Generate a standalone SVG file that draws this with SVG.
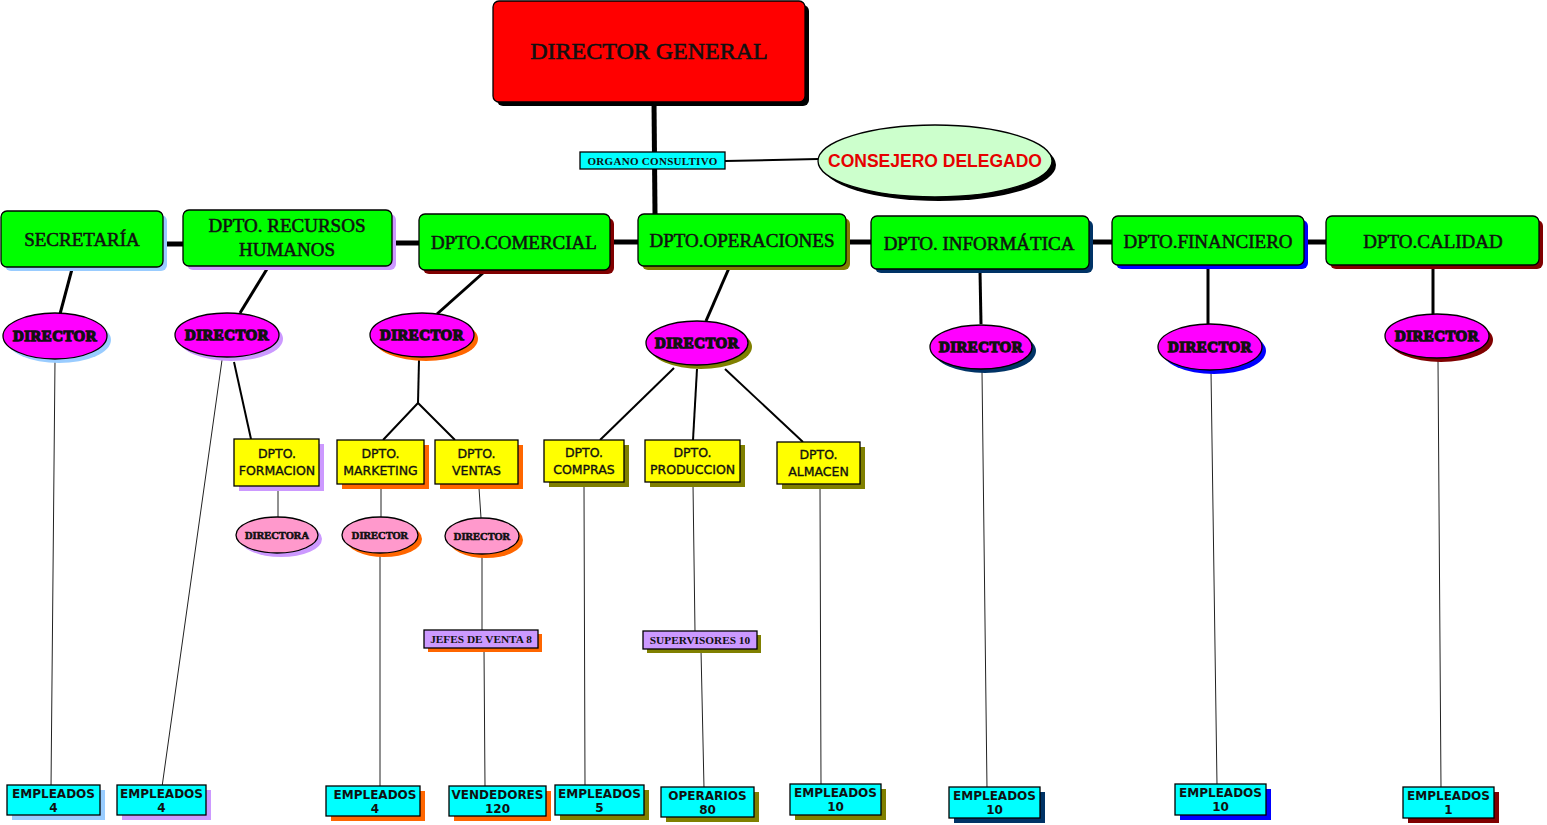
<svg xmlns="http://www.w3.org/2000/svg" width="1547" height="825" viewBox="0 0 1547 825">
<style>
.bg{fill:#ffffff}
.sk{stroke:#000;stroke-width:1.3}
.red{fill:#ff0000}
.grn{fill:#00ff00}
.mag{fill:#ff00ff}
.pnk{fill:#ff99cc}
.yel{fill:#ffff00}
.cya{fill:#00ffff}
.pur{fill:#cc99ff}
.lgr{fill:#ccffcc}
.s-lb{fill:#99ccff}.s-pu{fill:#cc99ff}.s-dr{fill:#800000}.s-ol{fill:#808000}.s-nv{fill:#003366}.s-bl{fill:#0000ff}.s-or{fill:#ff6600}.s-bk{fill:#000}
.tg{font-family:"Liberation Serif","Times New Roman",serif;font-size:19px;fill:#111;stroke:#111;stroke-width:0.55;text-anchor:middle}
.td{font-family:"Liberation Serif","Times New Roman",serif;font-size:15px;font-weight:bold;fill:#111;stroke:#111;stroke-width:1.3;text-anchor:middle;letter-spacing:0.4px}
.tp{font-family:"Liberation Serif","Times New Roman",serif;font-size:10.5px;font-weight:bold;fill:#111;stroke:#111;stroke-width:0.6;text-anchor:middle}
.ty{font-family:"DejaVu Sans",Verdana,sans-serif;font-size:12.5px;fill:#111;stroke:#111;stroke-width:0.35;text-anchor:middle}
.tc{font-family:"DejaVu Sans",Verdana,sans-serif;font-size:12px;font-weight:bold;fill:#111;text-anchor:middle}
.tv{font-family:"Liberation Serif","Times New Roman",serif;font-size:11.3px;font-weight:bold;fill:#111;text-anchor:middle}
.thick{stroke:#000;stroke-width:5;fill:none}
.med{stroke:#000;stroke-width:3;fill:none}
.br{stroke:#000;stroke-width:2;fill:none}
.thin{stroke:#222;stroke-width:1;fill:none}
</style>
<rect class="bg" x="0" y="0" width="1547" height="825"/>

<g id="connectors">
  <line class="thick" x1="654" y1="102" x2="655" y2="214"/>
  <line class="br" x1="725" y1="161" x2="818" y2="159"/>
  <line class="thick" x1="163" y1="244" x2="183" y2="244"/>
  <line class="thick" x1="392" y1="243" x2="419" y2="243"/>
  <line class="thick" x1="610" y1="242" x2="638" y2="242"/>
  <line class="thick" x1="846" y1="242" x2="871" y2="242"/>
  <line class="thick" x1="1089" y1="242" x2="1112" y2="242"/>
  <line class="thick" x1="1304" y1="242" x2="1326" y2="242"/>
  <line class="med" x1="72" y1="269" x2="60" y2="314"/>
  <line class="med" x1="267" y1="269" x2="240" y2="313"/>
  <line class="med" x1="483" y1="273" x2="437" y2="314"/>
  <line class="med" x1="729" y1="268" x2="706" y2="321"/>
  <line class="med" x1="980" y1="271" x2="981" y2="324"/>
  <line class="med" x1="1208" y1="266" x2="1208" y2="324"/>
  <line class="med" x1="1433" y1="266" x2="1433" y2="314"/>
  <line class="thin" x1="55" y1="360" x2="51" y2="788"/>
  <line class="thin" x1="222" y1="360" x2="162" y2="787"/>
  <line class="br" x1="234" y1="362" x2="251" y2="439"/>
  <line class="br" x1="419" y1="360" x2="418" y2="403"/>
  <polyline class="br" points="383,440 418,403 455,440"/>
  <line class="br" x1="674" y1="368" x2="600" y2="440"/>
  <line class="br" x1="697" y1="369" x2="693" y2="440"/>
  <line class="br" x1="725" y1="369" x2="803" y2="442"/>
  <line class="thin" x1="278" y1="488" x2="278" y2="517"/>
  <line class="thin" x1="381" y1="486" x2="381" y2="517"/>
  <line class="thin" x1="479" y1="488" x2="481" y2="518"/>
  <line class="thin" x1="380" y1="554" x2="380" y2="788"/>
  <line class="thin" x1="482" y1="555" x2="482" y2="631"/>
  <line class="thin" x1="484" y1="649" x2="485" y2="787"/>
  <line class="thin" x1="584" y1="484" x2="585" y2="787"/>
  <line class="thin" x1="693" y1="484" x2="695" y2="632"/>
  <line class="thin" x1="701" y1="650" x2="704" y2="788"/>
  <line class="thin" x1="820" y1="486" x2="821" y2="786"/>
  <line class="thin" x1="982" y1="371" x2="987" y2="789"/>
  <line class="thin" x1="1211" y1="371" x2="1217" y2="785"/>
  <line class="thin" x1="1438" y1="361" x2="1441" y2="789"/>
</g>

<g id="director-general">
  <rect class="s-bk" x="497" y="5" width="312" height="101" rx="6"/>
  <rect class="red sk" x="493" y="1" width="312" height="101" rx="6"/>
  <text x="649" y="59" style="font-family:'Liberation Serif','Times New Roman',serif;font-size:24px;fill:#111;stroke:#111;stroke-width:0.6;text-anchor:middle">DIRECTOR GENERAL</text>
</g>

<g id="organo-consultivo">
  <rect class="cya sk" x="580" y="152" width="145" height="17"/>
  <text class="tv" x="652.5" y="164.5" style="font-size:11px;letter-spacing:0.3px">ORGANO CONSULTIVO</text>
</g>

<g id="consejero-delegado">
  <ellipse class="s-bk" cx="939" cy="165" rx="117" ry="36"/>
  <ellipse class="lgr sk" cx="935" cy="161" rx="117" ry="36"/>
  <text x="935" y="167" style="font-family:'Liberation Sans',Arial,sans-serif;font-size:17.5px;font-weight:bold;fill:#e60000;text-anchor:middle">CONSEJERO DELEGADO</text>
</g>

<g id="secretaria">
  <rect class="s-lb" x="5" y="215" width="162" height="56" rx="6"/>
  <rect class="grn sk" x="1" y="211" width="162" height="56" rx="6"/>
  <text class="tg" x="82" y="246">SECRETARÍA</text>
</g>
<g id="rrhh">
  <rect class="s-pu" x="187" y="214" width="209" height="56" rx="6"/>
  <rect class="grn sk" x="183" y="210" width="209" height="56" rx="6"/>
  <text class="tg" x="287" y="232">DPTO. RECURSOS</text>
  <text class="tg" x="287" y="256">HUMANOS</text>
</g>
<g id="comercial">
  <rect class="s-dr" x="423" y="218" width="191" height="56" rx="6"/>
  <rect class="grn sk" x="419" y="214" width="191" height="56" rx="6"/>
  <text class="tg" x="514" y="249">DPTO.COMERCIAL</text>
</g>
<g id="operaciones">
  <rect class="s-ol" x="642" y="218" width="208" height="52" rx="6"/>
  <rect class="grn sk" x="638" y="214" width="208" height="52" rx="6"/>
  <text class="tg" x="742" y="247">DPTO.OPERACIONES</text>
</g>
<g id="informatica">
  <rect class="s-nv" x="875" y="220" width="218" height="53" rx="6"/>
  <rect class="grn sk" x="871" y="216" width="218" height="53" rx="6"/>
  <text class="tg" x="979" y="250">DPTO. INFORMÁTICA</text>
</g>
<g id="financiero">
  <rect class="s-bl" x="1116" y="220" width="192" height="49" rx="6"/>
  <rect class="grn sk" x="1112" y="216" width="192" height="49" rx="6"/>
  <text class="tg" x="1208" y="248">DPTO.FINANCIERO</text>
</g>
<g id="calidad">
  <rect class="s-dr" x="1330" y="220" width="213" height="49" rx="6"/>
  <rect class="grn sk" x="1326" y="216" width="213" height="49" rx="6"/>
  <text class="tg" x="1433" y="248">DPTO.CALIDAD</text>
</g>

<g id="dir-secretaria">
  <ellipse class="s-lb" cx="59" cy="340" rx="52" ry="23"/>
  <ellipse class="mag sk" cx="55" cy="336" rx="52" ry="23"/>
  <text class="td" x="55" y="341">DIRECTOR</text>
</g>
<g id="dir-rrhh">
  <ellipse class="s-pu" cx="231" cy="339" rx="52" ry="22"/>
  <ellipse class="mag sk" cx="227" cy="335" rx="52" ry="22"/>
  <text class="td" x="227" y="340">DIRECTOR</text>
</g>
<g id="dir-comercial">
  <ellipse class="s-or" cx="426" cy="339" rx="52" ry="22"/>
  <ellipse class="mag sk" cx="422" cy="335" rx="52" ry="22"/>
  <text class="td" x="422" y="340">DIRECTOR</text>
</g>
<g id="dir-operaciones">
  <ellipse class="s-ol" cx="701" cy="347" rx="51" ry="22"/>
  <ellipse class="mag sk" cx="697" cy="343" rx="51" ry="22"/>
  <text class="td" x="697" y="348">DIRECTOR</text>
</g>
<g id="dir-informatica">
  <ellipse class="s-nv" cx="985" cy="351" rx="51" ry="22"/>
  <ellipse class="mag sk" cx="981" cy="347" rx="51" ry="22"/>
  <text class="td" x="981" y="352">DIRECTOR</text>
</g>
<g id="dir-financiero">
  <ellipse class="s-bl" cx="1214" cy="351" rx="52" ry="23"/>
  <ellipse class="mag sk" cx="1210" cy="347" rx="52" ry="23"/>
  <text class="td" x="1210" y="352">DIRECTOR</text>
</g>
<g id="dir-calidad">
  <ellipse class="s-dr" cx="1441" cy="340" rx="52" ry="22"/>
  <ellipse class="mag sk" cx="1437" cy="336" rx="52" ry="22"/>
  <text class="td" x="1437" y="341">DIRECTOR</text>
</g>

<g id="formacion">
  <rect class="s-pu" x="239" y="444" width="85" height="47"/>
  <rect class="yel sk" x="234" y="439" width="85" height="47"/>
  <text class="ty" x="277" y="458">DPTO.</text>
  <text class="ty" x="277" y="475">FORMACION</text>
</g>
<g id="marketing">
  <rect class="s-or" x="342" y="445" width="87" height="44"/>
  <rect class="yel sk" x="337" y="440" width="87" height="44"/>
  <text class="ty" x="380.5" y="458">DPTO.</text>
  <text class="ty" x="380.5" y="475">MARKETING</text>
</g>
<g id="ventas">
  <rect class="s-or" x="440" y="445" width="83" height="44"/>
  <rect class="yel sk" x="435" y="440" width="83" height="44"/>
  <text class="ty" x="476.5" y="458">DPTO.</text>
  <text class="ty" x="476.5" y="475">VENTAS</text>
</g>
<g id="compras">
  <rect class="s-ol" x="549" y="445" width="80" height="42"/>
  <rect class="yel sk" x="544" y="440" width="80" height="42"/>
  <text class="ty" x="584" y="457">DPTO.</text>
  <text class="ty" x="584" y="474">COMPRAS</text>
</g>
<g id="produccion">
  <rect class="s-ol" x="650" y="445" width="95" height="42"/>
  <rect class="yel sk" x="645" y="440" width="95" height="42"/>
  <text class="ty" x="692.5" y="457">DPTO.</text>
  <text class="ty" x="692.5" y="474">PRODUCCION</text>
</g>
<g id="almacen">
  <rect class="s-ol" x="782" y="447" width="83" height="42"/>
  <rect class="yel sk" x="777" y="442" width="83" height="42"/>
  <text class="ty" x="818.5" y="459">DPTO.</text>
  <text class="ty" x="818.5" y="476">ALMACEN</text>
</g>

<g id="directora-formacion">
  <ellipse class="s-pu" cx="281" cy="539" rx="41" ry="18"/>
  <ellipse class="pnk sk" cx="277" cy="535" rx="41" ry="18"/>
  <text class="tp" x="277" y="539">DIRECTORA</text>
</g>
<g id="director-marketing">
  <ellipse class="s-or" cx="384" cy="539" rx="38" ry="18"/>
  <ellipse class="pnk sk" cx="380" cy="535" rx="38" ry="18"/>
  <text class="tp" x="380" y="539">DIRECTOR</text>
</g>
<g id="director-ventas">
  <ellipse class="s-or" cx="486" cy="540" rx="37" ry="18"/>
  <ellipse class="pnk sk" cx="482" cy="536" rx="37" ry="18"/>
  <text class="tp" x="482" y="540">DIRECTOR</text>
</g>

<g id="jefes-venta">
  <rect class="s-or" x="428" y="634" width="114" height="18"/>
  <rect class="pur sk" x="424" y="630" width="114" height="18"/>
  <text class="tv" x="481" y="643">JEFES DE VENTA 8</text>
</g>
<g id="supervisores">
  <rect class="s-ol" x="647" y="635" width="114" height="18"/>
  <rect class="pur sk" x="643" y="631" width="114" height="18"/>
  <text class="tv" x="700" y="644">SUPERVISORES 10</text>
</g>

<g id="emp-secretaria">
  <rect class="s-lb" x="12" y="790" width="93" height="30"/>
  <rect class="cya sk" x="7" y="785" width="93" height="30"/>
  <text class="tc" x="53.5" y="798">EMPLEADOS</text>
  <text class="tc" x="53.5" y="812">4</text>
</g>
<g id="emp-rrhh">
  <rect class="s-pu" x="122" y="790" width="89" height="30"/>
  <rect class="cya sk" x="117" y="785" width="89" height="30"/>
  <text class="tc" x="161.5" y="798">EMPLEADOS</text>
  <text class="tc" x="161.5" y="812">4</text>
</g>
<g id="emp-marketing">
  <rect class="s-or" x="331" y="791" width="94" height="30"/>
  <rect class="cya sk" x="326" y="786" width="94" height="30"/>
  <text class="tc" x="375" y="799">EMPLEADOS</text>
  <text class="tc" x="375" y="813">4</text>
</g>
<g id="vendedores">
  <rect class="s-or" x="454" y="791" width="97" height="30"/>
  <rect class="cya sk" x="449" y="786" width="97" height="30"/>
  <text class="tc" x="497.5" y="799">VENDEDORES</text>
  <text class="tc" x="497.5" y="813">120</text>
</g>
<g id="emp-compras">
  <rect class="s-ol" x="560" y="790" width="89" height="30"/>
  <rect class="cya sk" x="555" y="785" width="89" height="30"/>
  <text class="tc" x="599.5" y="798">EMPLEADOS</text>
  <text class="tc" x="599.5" y="812">5</text>
</g>
<g id="operarios">
  <rect class="s-ol" x="666" y="792" width="93" height="30"/>
  <rect class="cya sk" x="661" y="787" width="93" height="30"/>
  <text class="tc" x="707.5" y="800">OPERARIOS</text>
  <text class="tc" x="707.5" y="814">80</text>
</g>
<g id="emp-almacen">
  <rect class="s-ol" x="795" y="789" width="91" height="31"/>
  <rect class="cya sk" x="790" y="784" width="91" height="31"/>
  <text class="tc" x="835.5" y="797">EMPLEADOS</text>
  <text class="tc" x="835.5" y="811">10</text>
</g>
<g id="emp-informatica">
  <rect class="s-nv" x="954" y="792" width="91" height="31"/>
  <rect class="cya sk" x="949" y="787" width="91" height="31"/>
  <text class="tc" x="994.5" y="800">EMPLEADOS</text>
  <text class="tc" x="994.5" y="814">10</text>
</g>
<g id="emp-financiero">
  <rect class="s-bl" x="1180" y="789" width="91" height="31"/>
  <rect class="cya sk" x="1175" y="784" width="91" height="31"/>
  <text class="tc" x="1220.5" y="797">EMPLEADOS</text>
  <text class="tc" x="1220.5" y="811">10</text>
</g>
<g id="emp-calidad">
  <rect class="s-dr" x="1408" y="792" width="91" height="31"/>
  <rect class="cya sk" x="1403" y="787" width="91" height="31"/>
  <text class="tc" x="1448.5" y="800">EMPLEADOS</text>
  <text class="tc" x="1448.5" y="814">1</text>
</g>
</svg>
